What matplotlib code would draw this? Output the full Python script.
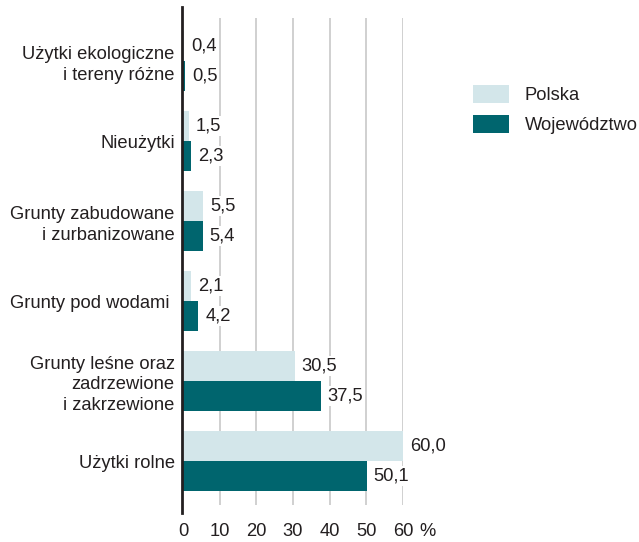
import matplotlib.pyplot as plt
import numpy as np

plt.rcParams['font.family'] = ['Liberation Sans', 'DejaVu Sans']

# od dołu do góry
kategorie = [
    'Użytki rolne',
    'Grunty leśne oraz\nzadrzewione\ni zakrzewione',
    'Grunty pod wodami ',
    'Grunty zabudowane\ni zurbanizowane',
    'Nieużytki',
    'Użytki ekologiczne\ni tereny różne',
]
polska = [60.0, 30.5, 2.1, 5.5, 1.5, 0.4]
wojewodztwo = [50.1, 37.5, 4.2, 5.4, 2.3, 0.5]
ticki = [0, 10, 20, 30, 40, 50, 60]

c_pl = '#d3e6ea'
c_woj = '#00656e'
c_txt = '#231f20'
fs = 13.2

W, H = 639, 542
fig = plt.figure(figsize=(W / 100, H / 100), dpi=100)
ax = fig.add_axes([183 / W, 29 / H, 220 / W, 506 / H])

# spine przesunięta o 1 pt w lewo, żeby cienkie słupki były widoczne
for s in ('top', 'right', 'bottom'):
    ax.spines[s].set_visible(False)
ax.spines['left'].set_position(('outward', 1))
ax.spines['left'].set_color(c_txt)
ax.spines['left'].set_linewidth(2)

y = np.arange(len(kategorie))
h = 0.375
ax.vlines(ticki[1:], -0.55, 5.54, color='#c8c8c8', lw=1.2, zorder=0)
b1 = ax.barh(y + h / 2, polska, height=h, color=c_pl, zorder=2, label='Polska')
b2 = ax.barh(y - h / 2, wojewodztwo, height=h, color=c_woj, zorder=2, label='Województwo')

for bars, vals in ((b1, polska), (b2, wojewodztwo)):
    for b, v in zip(bars, vals):
        ax.annotate(f'{v:.1f}'.replace('.', ','),
                    xy=(b.get_width(), b.get_y() + b.get_height() / 2),
                    xytext=(5, 0), textcoords='offset points',
                    ha='left', va='center', fontsize=fs, color=c_txt, zorder=3,
                    bbox=dict(facecolor='white', edgecolor='none', pad=1),
                    annotation_clip=False)

ax.set_xlim(0, 60)
ax.set_ylim(-0.65, 5.675)
ax.set_yticks(y)
ax.set_yticklabels(kategorie, fontsize=fs, color=c_txt, linespacing=1.3)
ax.set_xticks(ticki)
ax.set_xticklabels([str(t) for t in ticki], fontsize=fs, color=c_txt)
ax.tick_params(axis='both', length=0)
ax.tick_params(axis='y', pad=5)
ax.tick_params(axis='x', pad=7)
ax.annotate('%', xy=(64.6, 0), xycoords=('data', 'axes fraction'),
            xytext=(0, -7), textcoords='offset points',
            ha='left', va='top', fontsize=fs, color=c_txt, annotation_clip=False)

fig.legend(handles=[b1, b2], loc='upper left',
           bbox_to_anchor=(473 / W, 1 - 85 / H), frameon=False,
           fontsize=fs, handlelength=1.95, handleheight=1.1,
           handletextpad=0.86, labelspacing=0.62, borderpad=0, borderaxespad=0,
           labelcolor=c_txt)

fig.savefig('out.png', dpi=100)
